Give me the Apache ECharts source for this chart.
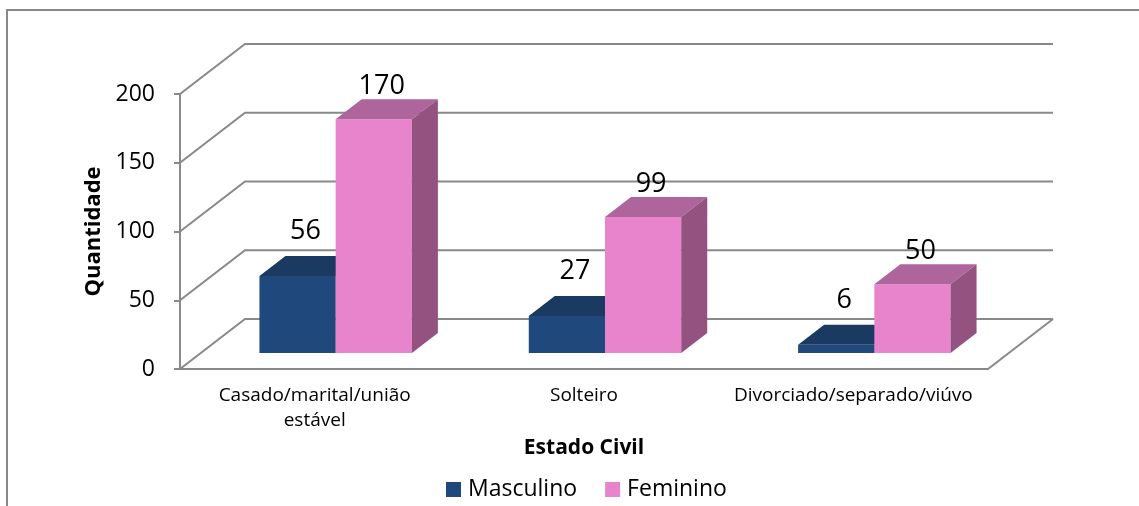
<!DOCTYPE html>
<html>
<head>
<meta charset="utf-8">
<script src="https://cdn.jsdelivr.net/npm/echarts@6/dist/echarts.min.js"></script>
<style>
  html, body { margin: 0; padding: 0; background: #fff; }
  #main { width: 1139px; height: 506px; }
</style>
</head>
<body>
<div id="main"></div>
<script>
  // dados do grafico
  const categorias = ['Casado/marital/união\nestável', 'Solteiro', 'Divorciado/separado/viúvo'];
  const masculino = [56, 27, 6];
  const feminino = [170, 99, 50];
  const yTicks = [0, 50, 100, 150, 200];

  const FONT = 'Open Sans';
  const GRID_COLOR = '#898989';
  const DEPTH = [65, -50];        // profundidade total do "piso"
  const BAR_FRONT = [21, -16];    // deslocamento da face frontal das barras
  const BAR_DEPTH = [26, -20];    // profundidade das barras
  const BAR_FRAC = 0.283;

  const cores = [
    { front: '#1F497D', top: '#1A3A61', side: '#17345A' },
    { front: '#E784CB', top: '#AE659C', side: '#93527F' }
  ];

  function barRender(idx) {
    return function (params, api) {
      let ci = api.value(0), v = api.value(1);
      let base = api.coord([ci, 0]);
      let topP = api.coord([ci, v]);
      let catW = api.size([1, 0])[0];
      let bw = catW * BAR_FRAC;
      let x0 = base[0] + (idx === 0 ? -bw : 0) + BAR_FRONT[0];
      let yb = base[1] + BAR_FRONT[1];
      let yt = topP[1] + BAR_FRONT[1];
      let dx = BAR_DEPTH[0], dy = BAR_DEPTH[1];
      let c = cores[idx];
      return {
        type: 'group',
        children: [
          { type: 'rect', shape: { x: x0, y: yt, width: bw, height: yb - yt }, style: { fill: c.front } },
          { type: 'polygon', shape: { points: [[x0, yt], [x0 + bw, yt], [x0 + bw + dx, yt + dy], [x0 + dx, yt + dy]] }, style: { fill: c.top } },
          { type: 'polygon', shape: { points: [[x0 + bw, yt], [x0 + bw + dx, yt + dy], [x0 + bw + dx, yb + dy], [x0 + bw, yb]] }, style: { fill: c.side } },
          {
            type: 'text',
            style: {
              x: x0 + bw / 2 + 8,
              y: yt + dy + 1 - (idx === 0 ? 12 : 0),
              text: String(v),
              fill: '#000',
              font: '27px "' + FONT + '"',
              textAlign: 'center',
              textVerticalAlign: 'bottom'
            }
          }
        ]
      };
    };
  }

  function gridRender(params, api) {
    let cs = params.coordSys;
    let v = api.value(1);
    let y = api.coord([0, v])[1];
    let x0 = cs.x, x1 = cs.x + cs.width;
    let children = [{
      type: 'polyline',
      shape: { points: [[x0, y], [x0 + DEPTH[0], y + DEPTH[1]], [x1 + DEPTH[0], y + DEPTH[1]]] },
      style: { stroke: GRID_COLOR, lineWidth: 2, fill: null }
    }];
    if (v === 0) {
      children.push({
        type: 'line',
        shape: { x1: x1, y1: y, x2: x1 + DEPTH[0], y2: y + DEPTH[1] },
        style: { stroke: GRID_COLOR, lineWidth: 2 }
      });
    }
    return { type: 'group', children: children };
  }

  let myechart = echarts.init(document.getElementById('main'));
  let option = {
    backgroundColor: '#fff',
    animation: false,
    textStyle: { fontFamily: FONT },
    graphic: [{
      type: 'rect',
      shape: { x: 7, y: 10, width: 1300, height: 700 },
      style: { fill: null, stroke: GRID_COLOR, lineWidth: 2 },
      silent: true
    }],
    legend: {
      data: ['Masculino', 'Feminino'],
      left: 441,
      top: 473,
      icon: 'rect',
      itemWidth: 15,
      itemHeight: 15,
      itemGap: 28,
      textStyle: { fontSize: 23, color: '#000', fontFamily: FONT, padding: [0, 0, 0, 2] }
    },
    grid: { left: 180, right: 151, top: 94, bottom: 137 },
    xAxis: {
      type: 'category',
      data: categorias,
      name: 'Estado Civil',
      nameLocation: 'middle',
      nameGap: 67,
      nameTextStyle: { fontSize: 21, fontWeight: 'bold', color: '#000', fontFamily: FONT },
      axisLine: { lineStyle: { color: GRID_COLOR, width: 2 } },
      axisTick: { length: 6, lineStyle: { color: GRID_COLOR, width: 2 } },
      axisLabel: { fontSize: 19, lineHeight: 25, color: '#000', margin: 14, interval: 0, fontFamily: FONT }
    },
    yAxis: {
      type: 'value',
      min: 0,
      max: 200,
      interval: 50,
      name: 'Quantidade',
      nameLocation: 'middle',
      nameGap: 74,
      nameTextStyle: { fontSize: 22, fontWeight: 'bold', color: '#000', fontFamily: FONT },
      axisLine: { show: true, lineStyle: { color: GRID_COLOR, width: 2 } },
      axisTick: { show: true, length: 6, lineStyle: { color: GRID_COLOR, width: 2 } },
      splitLine: { show: false },
      axisLabel: { fontSize: 23, color: '#000', margin: 25, fontFamily: FONT }
    },
    series: [
      {
        name: 'grade',
        type: 'custom',
        silent: true,
        clip: false,
        z: 1,
        renderItem: gridRender,
        data: yTicks.map(v => [0, v])
      },
      {
        name: 'Masculino',
        type: 'custom',
        clip: false,
        z: 3,
        itemStyle: { color: cores[0].front },
        renderItem: barRender(0),
        data: masculino.map((v, i) => [i, v])
      },
      {
        name: 'Feminino',
        type: 'custom',
        clip: false,
        z: 4,
        itemStyle: { color: cores[1].front },
        renderItem: barRender(1),
        data: feminino.map((v, i) => [i, v])
      }
    ]
  };
  myechart.setOption(option);
</script>
</body>
</html>
